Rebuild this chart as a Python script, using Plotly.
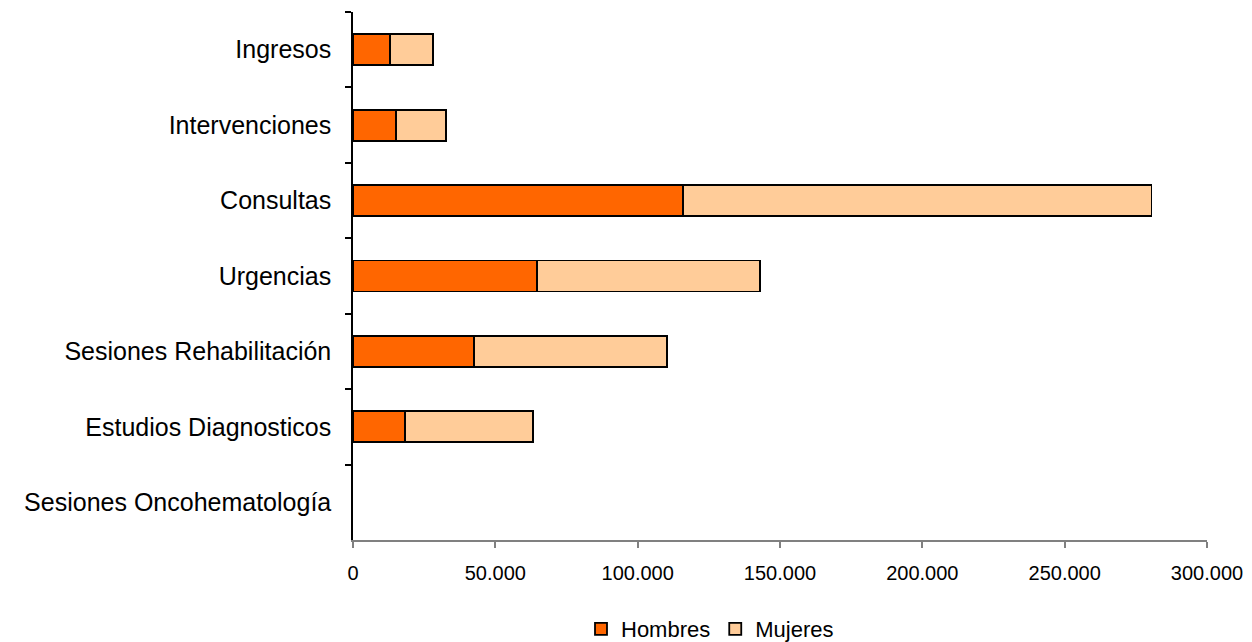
import plotly.graph_objects as go

categories = ["Ingresos", "Intervenciones", "Consultas", "Urgencias",
              "Sesiones Rehabilitación", "Estudios Diagnosticos", "Sesiones Oncohematología"]
hombres = [13000, 15000, 116000, 64500, 42500, 18300, None]
mujeres = [15100, 17700, 164500, 78500, 67800, 44900, None]
x_ticks = [0, 50000, 100000, 150000, 200000, 250000, 300000]

FONT = "Liberation Sans, Arial, sans-serif"

fig = go.Figure()
fig.add_trace(go.Bar(y=categories, x=hombres, orientation="h", name="Hombres",
                     marker=dict(color="#FF6600", line=dict(color="black", width=1.8))))
fig.add_trace(go.Bar(y=categories, x=mujeres, orientation="h", name="Mujeres",
                     marker=dict(color="#FFCC99", line=dict(color="black", width=1.8))))

fig.update_layout(
    width=1244, height=634,
    barmode="stack", bargap=0.59,
    plot_bgcolor="white", paper_bgcolor="white",
    separators=",.",
    margin=dict(l=345, r=45, t=4, b=102, autoexpand=False),
    font=dict(family=FONT, color="black", size=20),
    showlegend=True,
    legend=dict(orientation="h", xref="container", x=(710 - 8) / 1244, xanchor="center",
                yref="container", y=(634 - 621) / 634, yanchor="middle",
                font=dict(size=22, family=FONT), itemwidth=30, traceorder="normal"),
)
fig.update_xaxes(range=[0, 300000], tickvals=x_ticks, tickformat=",d",
                 showgrid=False, zeroline=False, showline=True, linecolor="#808080", linewidth=1.5,
                 ticks="outside", ticklen=6, tickcolor="#808080", tickwidth=1.5,
                 tickfont=dict(size=20, family=FONT), ticklabelstandoff=8)
fig.update_yaxes(autorange="reversed", showgrid=False, zeroline=False, showline=True,
                 linecolor="black", linewidth=1.5, ticks="outside", ticklen=6, tickcolor="black",
                 tickwidth=1.5, tickson="boundaries", tickfont=dict(size=25, family=FONT),
                 ticklabelstandoff=15)

fig.write_html("out.html")
